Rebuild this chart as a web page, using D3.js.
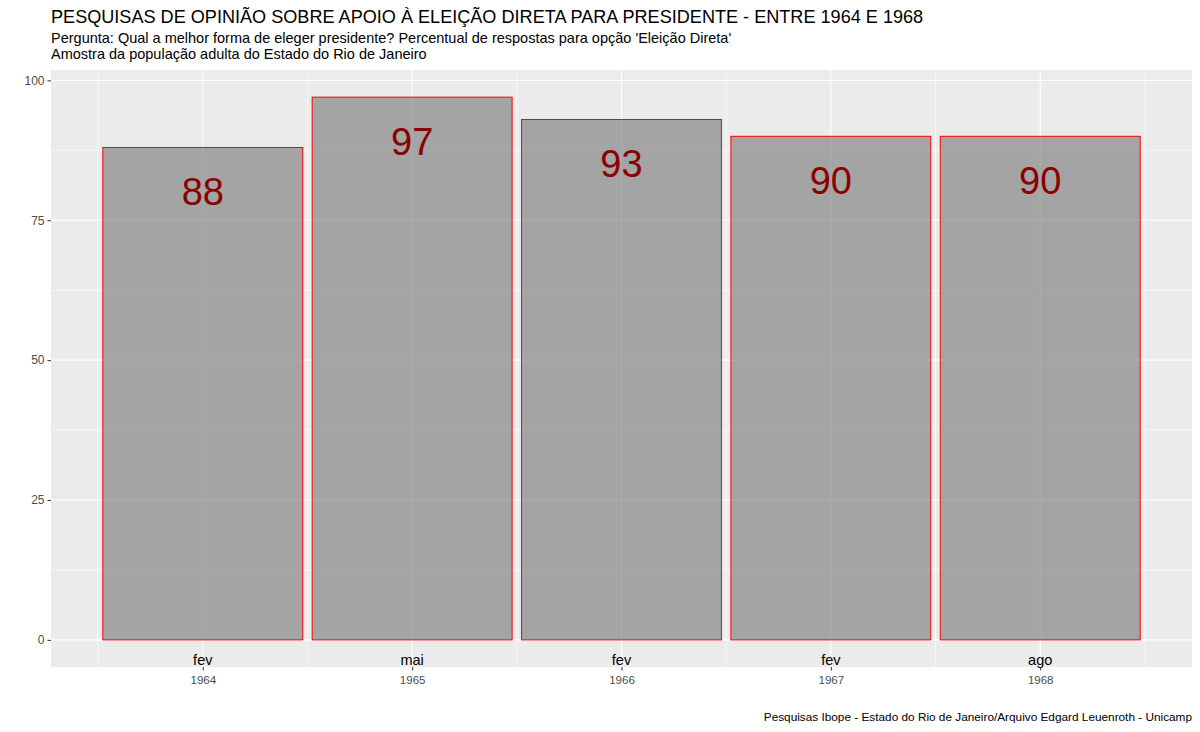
<!DOCTYPE html>
<html>
<head>
<meta charset="utf-8">
<script src="https://cdn.jsdelivr.net/npm/d3@7"></script>
<style>
  body { margin: 0; background: #fff; }
  text { font-family: "Liberation Sans", Arial, sans-serif; }
</style>
</head>
<body>
<svg id="chart" width="1200" height="732"></svg>
<script>
const meses = ["fev", "mai", "fev", "fev", "ago"];
const anos = ["1964", "1965", "1966", "1967", "1968"];
const valores = [88, 97, 93, 90, 90];
const yTicks = [0, 25, 50, 75, 100];
const yMinor = [12.5, 37.5, 62.5, 87.5];
const xMinor = [0.5, 1.5, 2.5, 3.5, 4.5, 5.5];
const titulo = "PESQUISAS DE OPINIÃO SOBRE APOIO À ELEIÇÃO DIRETA PARA PRESIDENTE - ENTRE 1964 E 1968";
const subtitulo1 = "Pergunta: Qual a melhor forma de eleger presidente? Percentual de respostas para opção 'Eleição Direta'";
const subtitulo2 = "Amostra da população adulta do Estado do Rio de Janeiro";
const fonte = "Pesquisas Ibope - Estado do Rio de Janeiro/Arquivo Edgard Leuenroth - Unicamp";

const svg = d3.select("#chart");
const panel = { left: 51, right: 1192, top: 70, bottom: 667 };
const idx = valores.map((d, i) => i + 1);

const x = d3.scaleLinear().domain([0.275, 5.725]).range([panel.left, panel.right]);
const y = d3.scaleLinear().domain([-4.85, 101.85]).range([panel.bottom, panel.top]);
const barW = 0.955;

// panel background
svg.append("rect").attr("x", panel.left).attr("y", panel.top)
  .attr("width", panel.right - panel.left).attr("height", panel.bottom - panel.top)
  .attr("fill", "#EBEBEB");

const grid = svg.append("g");
grid.selectAll(".ymin").data(yMinor).join("line")
  .attr("x1", panel.left).attr("x2", panel.right)
  .attr("y1", d => y(d)).attr("y2", d => y(d))
  .attr("stroke", "#fff").attr("stroke-width", 0.6);
grid.selectAll(".xmin").data(xMinor).join("line")
  .attr("y1", panel.top).attr("y2", panel.bottom)
  .attr("x1", d => x(d)).attr("x2", d => x(d))
  .attr("stroke", "#fff").attr("stroke-width", 0.6);
grid.selectAll(".ymaj").data(yTicks).join("line")
  .attr("x1", panel.left).attr("x2", panel.right)
  .attr("y1", d => y(d)).attr("y2", d => y(d))
  .attr("stroke", "#fff").attr("stroke-width", 1.1);
grid.selectAll(".xmaj").data(idx).join("line")
  .attr("y1", panel.top).attr("y2", panel.bottom)
  .attr("x1", d => x(d)).attr("x2", d => x(d))
  .attr("stroke", "#fff").attr("stroke-width", 1.1);

// bars
svg.append("g").selectAll("rect").data(valores).join("rect")
  .attr("x", (d, i) => x(i + 1 - barW / 2))
  .attr("width", (d, i) => x(i + 1 + barW / 2) - x(i + 1 - barW / 2))
  .attr("y", d => y(d))
  .attr("height", d => y(0) - y(d))
  .attr("fill", "#7F7F7F").attr("fill-opacity", 0.66)
  .attr("stroke", "#FF0000").attr("stroke-width", 1);

// value labels
svg.append("g").selectAll("text").data(valores).join("text")
  .attr("x", (d, i) => x(i + 1))
  .attr("y", d => y(d - 8) + 13)
  .attr("text-anchor", "middle")
  .attr("font-size", 38)
  .attr("fill", "#8B0000")
  .text(d => d);

// month labels
svg.append("g").selectAll("text").data(meses).join("text")
  .attr("x", (d, i) => x(i + 1))
  .attr("y", 665)
  .attr("text-anchor", "middle")
  .attr("font-size", 14.5)
  .attr("fill", "#000")
  .text(d => d);

// y axis
const yAxis = d3.axisLeft(y).tickValues(yTicks).tickSize(3.5).tickPadding(3);
const gy = svg.append("g").attr("transform", `translate(${panel.left},0)`).call(yAxis);
gy.select(".domain").remove();
gy.selectAll(".tick line").attr("stroke", "#333").attr("stroke-width", 1);
gy.selectAll(".tick text").attr("font-size", 12).attr("fill", "#4D4D4D")
  .attr("font-family", "Liberation Sans, Arial, sans-serif");

// x axis
const xAxis = d3.axisBottom(x).tickValues(idx).tickFormat((d, i) => anos[i]).tickSize(3.5).tickPadding(5);
const gx = svg.append("g").attr("transform", `translate(0,${panel.bottom})`).call(xAxis);
gx.select(".domain").remove();
gx.selectAll(".tick line").attr("stroke", "#333").attr("stroke-width", 1);
gx.selectAll(".tick text").attr("font-size", 11.5).attr("fill", "#4D4D4D")
  .attr("font-family", "Liberation Sans, Arial, sans-serif");

// titles
svg.append("text").attr("x", panel.left).attr("y", 23).attr("font-size", 18.1).attr("fill", "#000").text(titulo);
svg.append("text").attr("x", panel.left).attr("y", 43).attr("font-size", 14.5).attr("fill", "#000").text(subtitulo1);
svg.append("text").attr("x", panel.left).attr("y", 59).attr("font-size", 14.5).attr("fill", "#000").text(subtitulo2);
svg.append("text").attr("x", panel.right).attr("y", 721).attr("text-anchor", "end")
  .attr("font-size", 11.8).attr("fill", "#000").text(fonte);
</script>
</body>
</html>
